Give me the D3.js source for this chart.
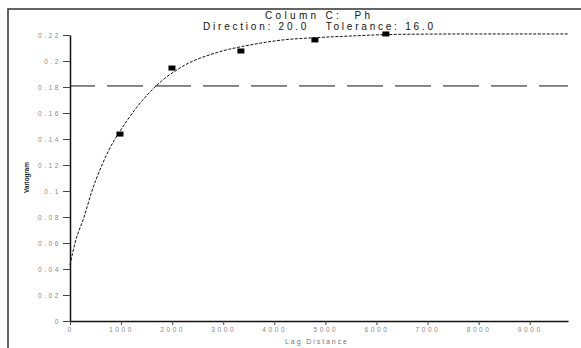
<!DOCTYPE html>
<html>
<head>
<meta charset="utf-8">
<script src="https://cdn.jsdelivr.net/npm/d3@7"></script>
<style>
  html, body { margin: 0; padding: 0; background: #fff; }
  svg { display: block; font-family: "Liberation Sans", Arial, sans-serif; }
  text { white-space: pre; }
</style>
</head>
<body>
<svg id="chart" width="581" height="348"></svg>
<script>
// ---- data ----
const titleLine1 = "Column C:  Ph";
const titleLine2 = "Direction: 20.0   Tolerance: 16.0";
const xTitle = "Lag Distance";
const yTitle = "Variogram";

const xTickValues = [0, 1000, 2000, 3000, 4000, 5000, 6000, 7000, 8000, 9000];
const xTickLabels = ["0", "1000", "2000", "3000", "4000", "5000", "6000", "7000", "8000", "9000"];
const yTickValues = [0, 0.02, 0.04, 0.06, 0.08, 0.10, 0.12, 0.14, 0.16, 0.18, 0.20, 0.22];
const yTickLabels = ["0", "0.02", "0.04", "0.06", "0.08", "0.1", "0.12", "0.14", "0.16", "0.18", "0.2", "0.22"];

// experimental variogram points
const pointLag   = [978, 1996, 3346, 4795, 6184];
const pointGamma = [0.1438, 0.1946, 0.2077, 0.2162, 0.2208];

// fitted model curve
const curveLag   = [0, 98, 274, 430, 626, 880, 978, 1300, 1663, 2211, 2877, 3523, 4168, 4834, 5480, 6184, 7000, 8000, 9746];
const curveGamma = [0.043, 0.06, 0.08, 0.10, 0.12, 0.14, 0.146, 0.164, 0.18, 0.196, 0.2065, 0.2123, 0.2162, 0.218, 0.2192, 0.2203, 0.2207, 0.2208, 0.2208];

// sill (dashed line)
const sill = 0.1808;

// ---- drawing ----
const svg = d3.select("#chart");
const x = d3.scaleLinear().domain([0, 9750]).range([70, 568]);
const y = d3.scaleLinear().domain([0, 0.22]).range([321, 35]);

// scanned frame
svg.append("path")
  .attr("d", "M8,348 L8,9 L581,9")
  .attr("fill", "none").attr("stroke", "#333").attr("stroke-width", 1.5);

// titles (wide-spaced, as in the scanned original)
svg.append("text").attr("x", 265).attr("y", 18.5)
  .attr("font-size", 10).attr("fill", "#111")
  .attr("textLength", 105).attr("lengthAdjust", "spacing").text(titleLine1);
svg.append("text").attr("x", 203).attr("y", 30.2)
  .attr("font-size", 10).attr("fill", "#111")
  .attr("textLength", 230).attr("lengthAdjust", "spacing").text(titleLine2);

function styleTickText(sel) {
  sel.attr("font-size", 6.5).attr("fill", "#888")
    .attr("letter-spacing", 2.6)
    .attr("font-family", "'Liberation Sans', Arial, sans-serif");
}

// y axis
const yAxis = d3.axisLeft(y).tickValues(yTickValues)
  .tickFormat((d, i) => yTickLabels[i]).tickSize(7).tickSizeOuter(0).tickPadding(2);
const gy = svg.append("g").attr("transform", `translate(${x(0)},0)`).call(yAxis);
gy.select(".domain").attr("stroke", "#111").attr("stroke-width", 1.5);
gy.selectAll(".tick line").attr("stroke", "#444");
gy.selectAll(".tick text").call(styleTickText);

// x axis
const xAxis = d3.axisBottom(x).tickValues(xTickValues)
  .tickFormat((d, i) => xTickLabels[i]).tickSize(4).tickSizeOuter(0).tickPadding(2);
const gx = svg.append("g").attr("transform", `translate(0,${y(0)})`).call(xAxis);
gx.select(".domain").attr("stroke", "#111").attr("stroke-width", 1.5);
gx.selectAll(".tick line").attr("stroke", "#444");
gx.selectAll(".tick text").call(styleTickText);

// axis titles
svg.append("text").attr("x", 285).attr("y", 344)
  .attr("font-size", 7).attr("fill", "#777")
  .attr("textLength", 62).attr("lengthAdjust", "spacing").text(xTitle);
svg.append("text").attr("transform", "translate(29,193) rotate(-90)")
  .attr("font-size", 8).attr("font-weight", "bold")
  .attr("textLength", 31).attr("lengthAdjust", "spacingAndGlyphs")
  .attr("fill", "#222").text(yTitle);

// sill dashed line
svg.append("line")
  .attr("x1", x(0)).attr("x2", x(9750)).attr("y1", y(sill)).attr("y2", y(sill))
  .attr("stroke", "#111").attr("stroke-width", 1)
  .attr("stroke-dasharray", "36,12").attr("stroke-dashoffset", 11);

// model curve
const curveData = curveLag.map((d, i) => [d, curveGamma[i]]);
svg.append("path").datum(curveData)
  .attr("d", d3.line().x(d => x(d[0])).y(d => y(d[1])).curve(d3.curveMonotoneX))
  .attr("fill", "none").attr("stroke", "#111").attr("stroke-width", 1)
  .attr("stroke-dasharray", "3,1.5");

// points
const pts = pointLag.map((d, i) => [d, pointGamma[i]]);
svg.selectAll("rect.pt").data(pts).enter().append("rect").attr("class", "pt")
  .attr("x", d => x(d[0]) - 3.5).attr("y", d => y(d[1]) - 2.5)
  .attr("width", 7).attr("height", 5).attr("fill", "#000");
</script>
</body>
</html>
